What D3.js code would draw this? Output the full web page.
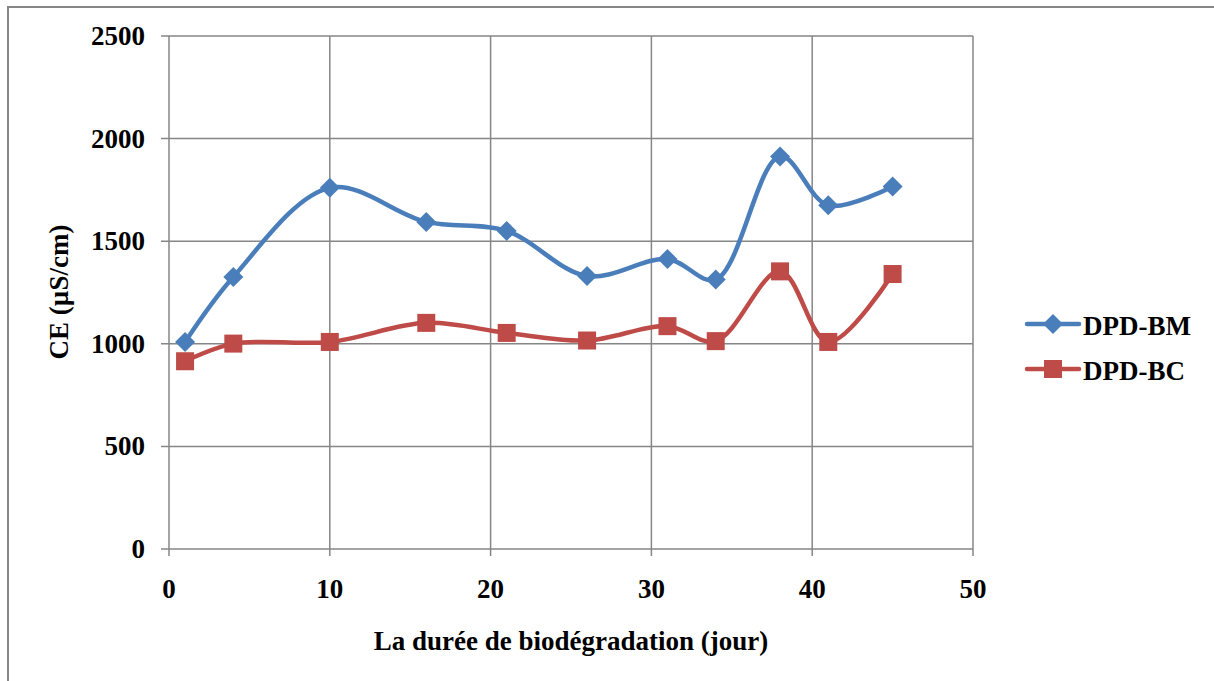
<!DOCTYPE html>
<html>
<head>
<meta charset="utf-8">
<script src="https://cdn.jsdelivr.net/npm/d3@7"></script>
<style>
  body { margin: 0; background: #fff; }
  svg text { font-family: "Liberation Serif", "Times New Roman", serif; font-weight: bold; fill: #000; }
</style>
</head>
<body>
<script>
var days = [1, 4, 10, 16, 21, 26, 31, 34, 38, 41, 45],
    seriesNames = ["DPD-BM", "DPD-BC"],
    bmValues = [1009, 1326, 1760, 1594, 1550, 1330, 1413, 1313, 1913, 1675, 1767],
    bcValues = [915, 1001, 1009, 1102, 1053, 1016, 1086, 1013, 1353, 1009, 1340],
    xTicks = [0, 10, 20, 30, 40, 50],
    yTicks = [0, 500, 1000, 1500, 2000, 2500];

var w = 1214,
    h = 681,
    margin = {left: 169, right: 241, top: 36, bottom: 132},
    gridColor = "#868686",
    fontSize = "27px";

var svg = d3.select("body")
    .append("svg")
    .attr("width", w)
    .attr("height", h);

// outer frame
svg.append("rect")
    .attr("x", 8)
    .attr("y", 7)
    .attr("width", w + 20)
    .attr("height", h + 20)
    .attr("fill", "none")
    .attr("stroke", gridColor)
    .attr("stroke-width", 2);

var x = d3.scaleLinear().domain([0, 50]).range([margin.left, w - margin.right]);
var y = d3.scaleLinear().domain([0, 2500]).range([h - margin.bottom, margin.top]);

// grid
svg.append("g")
    .selectAll("line.h")
    .data(yTicks)
    .enter()
    .append("line")
    .attr("x1", x(0) - 8)
    .attr("x2", x(50))
    .attr("y1", function (d) { return y(d); })
    .attr("y2", function (d) { return y(d); })
    .attr("stroke", gridColor)
    .attr("stroke-width", 1.5);

svg.append("g")
    .selectAll("line.v")
    .data(xTicks)
    .enter()
    .append("line")
    .attr("x1", function (d) { return x(d); })
    .attr("x2", function (d) { return x(d); })
    .attr("y1", y(2500))
    .attr("y2", y(0) + 7)
    .attr("stroke", gridColor)
    .attr("stroke-width", 1.5);

// tick labels
svg.append("g")
    .selectAll("text")
    .data(yTicks)
    .enter()
    .append("text")
    .text(function (d) { return d; })
    .attr("x", x(0) - 24)
    .attr("y", function (d) { return y(d) + 9; })
    .attr("text-anchor", "end")
    .attr("font-size", fontSize);

svg.append("g")
    .selectAll("text")
    .data(xTicks)
    .enter()
    .append("text")
    .text(function (d) { return d; })
    .attr("x", function (d) { return x(d); })
    .attr("y", y(0) + 49)
    .attr("text-anchor", "middle")
    .attr("font-size", fontSize);

// axis titles
svg.append("text")
    .text("La durée de biodégradation (jour)")
    .attr("x", (x(0) + x(50)) / 2)
    .attr("y", 650)
    .attr("text-anchor", "middle")
    .attr("font-size", fontSize);

svg.append("text")
    .text("CE (µS/cm)")
    .attr("transform", "translate(68," + 292 + ") rotate(-90)")
    .attr("text-anchor", "middle")
    .attr("font-size", fontSize);

// series
var series = [
    {name: seriesNames[0], values: bmValues, color: "#4a7ebb", marker: "diamond"},
    {name: seriesNames[1], values: bcValues, color: "#be4b48", marker: "square"}
];

var line = d3.line()
    .x(function (d) { return x(d[0]); })
    .y(function (d) { return y(d[1]); })
    .curve(d3.curveCatmullRom.alpha(0.5));

function drawMarker(g, type, color) {
    if (type === "diamond") {
        g.append("path")
            .attr("d", "M0,-10L10,0L0,10L-10,0Z")
            .attr("fill", color);
    } else {
        g.append("rect")
            .attr("x", -9)
            .attr("y", -9)
            .attr("width", 18)
            .attr("height", 18)
            .attr("fill", color);
    }
}

series.forEach(function (s) {
    var pts = days.map(function (d, i) { return [d, s.values[i]]; });
    svg.append("path")
        .attr("d", line(pts))
        .attr("fill", "none")
        .attr("stroke", s.color)
        .attr("stroke-width", 4.5)
        .attr("stroke-linecap", "round");
    svg.append("g")
        .selectAll("g")
        .data(pts)
        .enter()
        .append("g")
        .attr("transform", function (d) { return "translate(" + x(d[0]) + "," + y(d[1]) + ")"; })
        .each(function () { drawMarker(d3.select(this), s.marker, s.color); });
});

// legend
series.forEach(function (s, i) {
    var ly = 324 + i * 45;
    svg.append("line")
        .attr("x1", 1027)
        .attr("x2", 1079)
        .attr("y1", ly)
        .attr("y2", ly)
        .attr("stroke", s.color)
        .attr("stroke-width", 4.5)
        .attr("stroke-linecap", "round");
    var g = svg.append("g").attr("transform", "translate(1053," + ly + ")");
    drawMarker(g, s.marker, s.color);
    svg.append("text")
        .text(s.name)
        .attr("x", 1083)
        .attr("y", ly + 11)
        .attr("font-size", fontSize);
});
</script>
</body>
</html>
